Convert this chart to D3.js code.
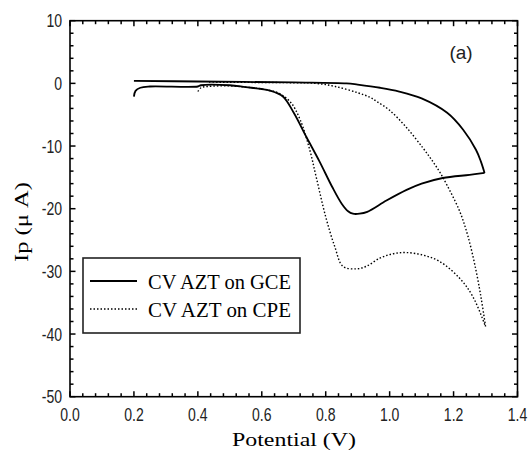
<!DOCTYPE html>
<html>
<head>
<meta charset="utf-8">
<script src="https://cdn.jsdelivr.net/npm/d3@7"></script>
<style>
  body { margin: 0; background: #fff; }
</style>
</head>
<body>
<div id="cv"></div>
<script>
// Cyclic voltammetry data: [potential (V), current (uA)]
const gceForward = [
  [0.200, -2.1], [0.205, -1.2], [0.22, -0.7], [0.25, -0.5], [0.40, -0.5], [0.41, -0.3],
  [0.50, -0.3], [0.55, -0.6], [0.60, -0.9], [0.625, -1.15], [0.666, -2.1], [0.70, -4.7],
  [0.74, -8.6], [0.78, -12.4], [0.82, -16.5], [0.85, -19.2], [0.87, -20.4], [0.885, -20.8],
  [0.906, -20.8], [0.93, -20.5], [0.99, -18.7], [1.053, -17.0], [1.10, -16.0], [1.166, -15.1],
  [1.25, -14.6], [1.297, -14.3]
];
const gceReverse = [
  [1.297, -14.3], [1.285, -12.4], [1.27, -10.6], [1.23, -7.4], [1.18, -4.7], [1.10, -2.4],
  [1.03, -1.3], [0.97, -0.7], [0.90, -0.2], [0.865, 0.0], [0.70, 0.15], [0.40, 0.3], [0.20, 0.4]
];
const cpeForward = [
  [0.40, -1.3], [0.41, -0.7], [0.43, -0.5], [0.50, -0.4], [0.55, -0.6], [0.60, -0.9],
  [0.65, -1.5], [0.69, -3.0], [0.72, -5.8], [0.75, -10.6], [0.77, -14.9], [0.80, -21.3],
  [0.828, -26.0], [0.854, -29.2], [0.896, -29.6], [0.927, -29.2], [0.969, -27.9], [1.01, -27.2],
  [1.052, -27.0], [1.104, -27.4], [1.156, -28.4], [1.219, -31.1], [1.26, -34.0], [1.30, -38.8]
];
const cpeReverse = [
  [1.30, -38.8], [1.287, -34.5], [1.27, -29.8], [1.245, -24.4], [1.219, -20.4], [1.18, -16.3],
  [1.156, -14.1], [1.13, -12.1], [1.104, -10.3], [1.052, -7.0], [1.0, -4.3], [0.96, -2.9],
  [0.9375, -2.2], [0.90, -1.5], [0.83, -0.5], [0.77, 0.0], [0.70, 0.1], [0.57, 0.15], [0.43, 0.2]
];

const xTicks = [0.0, 0.2, 0.4, 0.6, 0.8, 1.0, 1.2, 1.4];
const yTicks = [10, 0, -10, -20, -30, -40, -50];
const seriesNames = ["CV AZT on GCE", "CV AZT on CPE"];

const width = 531, height = 455;
const plotLeft = 70, plotRight = 517.5, plotTop = 20.7, plotBottom = 396.7;

const svg = d3.select("#cv").append("svg")
    .attr("width", width)
    .attr("height", height)
    .style("background", "#fff");

const x = d3.scaleLinear().domain([0, 1.4]).range([plotLeft, plotRight]);
const y = d3.scaleLinear().domain([-50, 10]).range([plotBottom, plotTop]);

// minor ticks every 0.04 V and 2 uA (the majors are the labelled values)
const xMinor = d3.range(0, 1.4001, 0.04).filter(v => Math.abs(v * 5 - Math.round(v * 5)) > 1e-6);
const yMinor = d3.range(-50, 10.001, 2).filter(v => v % 10 !== 0);

svg.append("rect")
    .attr("x", plotLeft).attr("y", plotTop)
    .attr("width", plotRight - plotLeft).attr("height", plotBottom - plotTop)
    .attr("fill", "none").attr("stroke", "#000").attr("stroke-width", 1.6);

// inward ticks on all four sides of the frame
const ticks = svg.append("g");
const xTickData = xTicks.map(v => ({ v, len: 5.5 })).concat(xMinor.map(v => ({ v, len: 3.5 })));
const yTickData = yTicks.map(v => ({ v, len: 5.5 })).concat(yMinor.map(v => ({ v, len: 3.5 })));

[[plotBottom, -1], [plotTop, 1]].forEach(([y0, dir]) => {
  ticks.selectAll(null)
      .data(xTickData)
      .enter()
      .append("line")
      .attr("x1", d => x(d.v)).attr("x2", d => x(d.v))
      .attr("y1", y0).attr("y2", d => y0 + dir * d.len)
      .style("stroke", "#000")
      .style("stroke-width", "1.5px");
});
[[plotLeft, 1], [plotRight, -1]].forEach(([x0, dir]) => {
  ticks.selectAll(null)
      .data(yTickData)
      .enter()
      .append("line")
      .attr("y1", d => y(d.v)).attr("y2", d => y(d.v))
      .attr("x1", x0).attr("x2", d => x0 + dir * d.len)
      .style("stroke", "#000")
      .style("stroke-width", "1.5px");
});

// tick labels (narrow sans, as in the scanned figure)
svg.append("g").selectAll("text")
    .data(xTicks)
    .enter()
    .append("text")
    .attr("transform", d => `translate(${x(d)},${plotBottom + 24}) scale(0.78,1)`)
    .attr("text-anchor", "middle")
    .style("font-family", "Arial, 'Liberation Sans', sans-serif")
    .style("font-size", "18px")
    .style("fill", "#222")
    .text(d => d.toFixed(1));

svg.append("g").selectAll("text")
    .data(yTicks)
    .enter()
    .append("text")
    .attr("transform", d => `translate(${plotLeft - 8},${y(d) + 6.5}) scale(0.78,1)`)
    .attr("text-anchor", "end")
    .style("font-family", "Arial, 'Liberation Sans', sans-serif")
    .style("font-size", "18px")
    .style("fill", "#222")
    .text(d => d);

// curves
const lineGen = d3.line().x(d => x(d[0])).y(d => y(d[1])).curve(d3.curveCatmullRom);

[gceForward, gceReverse].forEach(pts => {
  svg.append("path")
      .attr("d", lineGen(pts))
      .attr("fill", "none")
      .attr("stroke", "#000")
      .attr("stroke-width", 1.8);
});
[cpeForward, cpeReverse].forEach(pts => {
  svg.append("path")
      .attr("d", lineGen(pts))
      .attr("fill", "none")
      .attr("stroke", "#000")
      .attr("stroke-width", 1.4)
      .attr("stroke-dasharray", "1.5,2");
});

// axis titles
svg.append("text")
    .attr("x", 294).attr("y", 446)
    .attr("text-anchor", "middle")
    .attr("textLength", 124)
    .attr("lengthAdjust", "spacingAndGlyphs")
    .style("font-family", "'Times New Roman', 'Liberation Serif', serif")
    .style("font-size", "19px")
    .text("Potential (V)");

svg.append("text")
    .attr("transform", "translate(28,222) rotate(-90)")
    .attr("text-anchor", "middle")
    .attr("textLength", 80)
    .attr("lengthAdjust", "spacingAndGlyphs")
    .style("font-family", "'Times New Roman', 'Liberation Serif', serif")
    .style("font-size", "19px")
    .text("Ip (\u03bc A)");

svg.append("text")
    .attr("x", 461).attr("y", 59)
    .attr("text-anchor", "middle")
    .style("font-family", "Arial, 'Liberation Sans', sans-serif")
    .style("font-size", "19px")
    .style("fill", "#222")
    .text("(a)");

// legend
const legend = svg.append("g");
legend.append("rect")
    .attr("x", 83).attr("y", 258)
    .attr("width", 217).attr("height", 75)
    .attr("fill", "#fff").attr("stroke", "#222").attr("stroke-width", 1.6);

const legendRows = legend.selectAll("g.row")
    .data(seriesNames)
    .enter()
    .append("g")
    .attr("class", "row")
    .attr("transform", (d, i) => `translate(0,${281 + i * 28})`);

legendRows.append("line")
    .attr("x1", 90).attr("x2", 137)
    .attr("stroke", "#000")
    .attr("stroke-width", (d, i) => i === 0 ? 1.8 : 1.4)
    .attr("stroke-dasharray", (d, i) => i === 0 ? null : "1.5,2");

legendRows.append("text")
    .attr("x", 148).attr("y", 8)
    .attr("textLength", 143)
    .attr("lengthAdjust", "spacingAndGlyphs")
    .style("font-family", "'Times New Roman', 'Liberation Serif', serif")
    .style("font-size", "22px")
    .text(d => d);
</script>
</body>
</html>
